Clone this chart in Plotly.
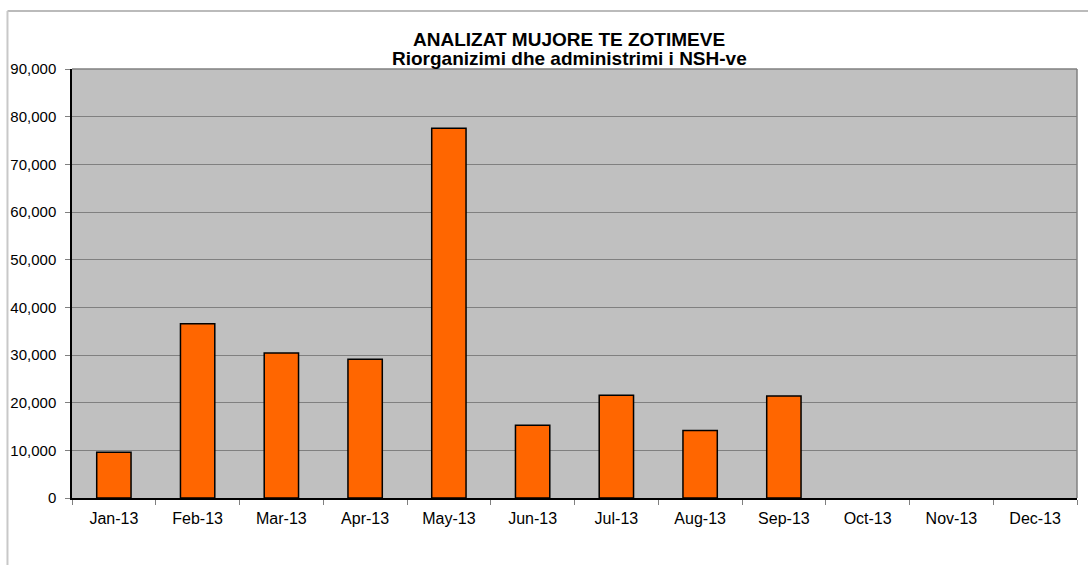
import plotly.graph_objects as go

months = ["Jan-13", "Feb-13", "Mar-13", "Apr-13", "May-13", "Jun-13",
          "Jul-13", "Aug-13", "Sep-13", "Oct-13", "Nov-13", "Dec-13"]
values = [9600, 36550, 30400, 29100, 77550, 15250,
          21550, 14150, 21400, None, None, None]
title_line1 = "ANALIZAT MUJORE TE ZOTIMEVE"
title_line2 = "Riorganizimi dhe administrimi i NSH-ve"

FONT = "Liberation Sans, Arial, Helvetica, sans-serif"

fig = go.Figure(go.Bar(
    x=months, y=values,
    marker=dict(color="#FF6600", line=dict(color="#000000", width=1.5)),
    hoverinfo="x+y",
))

fig.update_layout(
    width=1088, height=565,
    margin=dict(l=72, r=11, t=69, b=66.5),
    paper_bgcolor="white",
    plot_bgcolor="#C0C0C0",
    bargap=0.59,
    showlegend=False,
    font=dict(family=FONT, size=15, color="#000000"),
    xaxis=dict(
        type="category",
        showline=True, linecolor="#000000", linewidth=1.5,
        ticks="outside", tickson="boundaries", ticklen=5,
        tickcolor="#808080", tickwidth=1,
        ticklabelstandoff=5,
        showgrid=False,
        tickfont=dict(size=16, family=FONT),
    ),
    yaxis=dict(
        range=[0, 90000], dtick=10000, tickformat=",",
        showline=True, linecolor="#000000", linewidth=1.5,
        ticks="outside", ticklen=5, tickcolor="#808080", tickwidth=1,
        ticklabelstandoff=6,
        showgrid=True, gridcolor="#808080", gridwidth=1,
        zeroline=False,
        tickfont=dict(size=15, family=FONT),
    ),
    annotations=[
        dict(text="<b>%s</b>" % title_line1, xref="paper", yref="paper",
             x=0.495, y=1.0698, xanchor="center", yanchor="middle",
             showarrow=False, font=dict(size=19, family=FONT)),
        dict(text="<b>%s</b>" % title_line2, xref="paper", yref="paper",
             x=0.495, y=1.0256, xanchor="center", yanchor="middle",
             showarrow=False, font=dict(size=19, family=FONT)),
    ],
    shapes=[
        dict(type="line", xref="paper", yref="paper", x0=0, x1=1, y0=1, y1=1,
             line=dict(color="#808080", width=1.5)),
        dict(type="line", xref="paper", yref="paper", x0=1, x1=1, y0=0, y1=1,
             line=dict(color="#808080", width=1.5)),
        dict(type="line", xref="paper", yref="paper", layer="above",
             x0=-0.0642, x1=1.05, y0=1.135, y1=1.135,
             line=dict(color="#BBBBBB", width=2)),
        dict(type="line", xref="paper", yref="paper", layer="above",
             x0=-0.0642, x1=-0.0642, y0=1.135, y1=-0.3,
             line=dict(color="#C8C8C8", width=2)),
    ],
)

fig.write_html("out.html",
               config={"displayModeBar": False},
               post_script="document.body.style.margin='0';document.body.style.padding='0';")
